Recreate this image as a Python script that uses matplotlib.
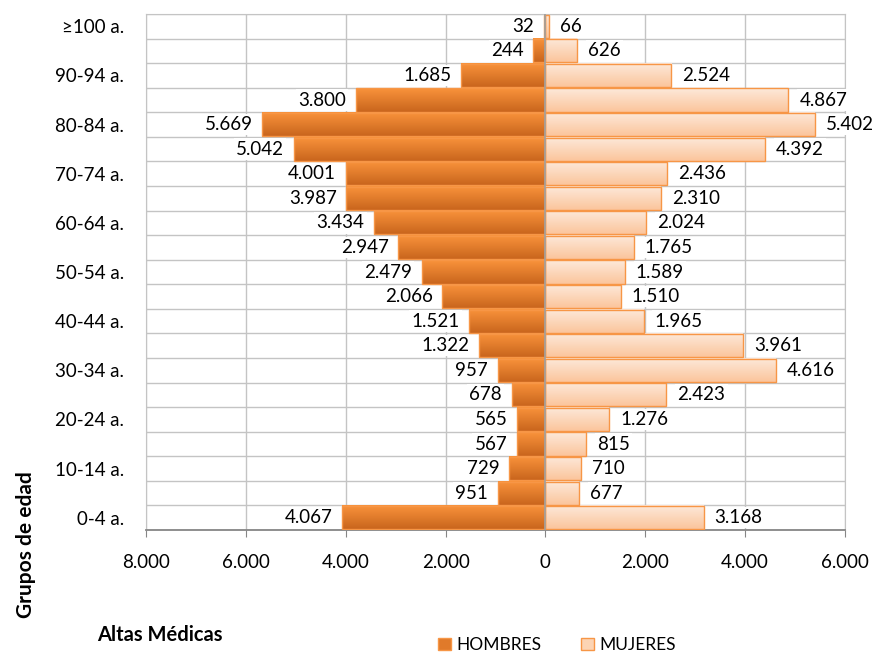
import numpy as np
import matplotlib.pyplot as plt
from matplotlib.colors import LinearSegmentedColormap
from matplotlib.patches import Patch

# Age groups, bottom to top
grupos = ["0-4 a.", "5-9 a.", "10-14 a.", "15-19 a.", "20-24 a.", "25-29 a.",
          "30-34 a.", "35-39 a.", "40-44 a.", "45-49 a.", "50-54 a.", "55-59 a.",
          "60-64 a.", "65-69 a.", "70-74 a.", "75-79 a.", "80-84 a.", "85-89 a.",
          "90-94 a.", "95-99 a.", "\u2265100 a."]
hombres = [4067, 951, 729, 567, 565, 678, 957, 1322, 1521, 2066, 2479, 2947,
           3434, 3987, 4001, 5042, 5669, 3800, 1685, 244, 32]
mujeres = [3168, 677, 710, 815, 1276, 2423, 4616, 3961, 1965, 1510, 1589, 1765,
           2024, 2310, 2436, 4392, 5402, 4867, 2524, 626, 66]
xticks = [-8000, -6000, -4000, -2000, 0, 2000, 4000, 6000]

plt.rcParams['font.family'] = ['Lato', 'DejaVu Sans']

def fmt(v):
    return f"{abs(v):,}".replace(",", ".")

cm_h = LinearSegmentedColormap.from_list("h", ["#c9651d", "#f9933b"])
cm_m = LinearSegmentedColormap.from_list("m", ["#fbc59c", "#fde9da"])
edge = "#f79646"
fs = 13.5

fig = plt.figure(figsize=(8.76, 6.55), dpi=100)
ax = fig.add_axes([0.1667, 0.1908, 0.7979, 0.7878])

y = np.arange(len(grupos))
h = 0.94
grad = np.linspace(0, 1, 50).reshape(-1, 1)

for i in range(len(grupos)):
    # HOMBRES on the left
    ax.imshow(grad, extent=[-hombres[i], 0, y[i] - h / 2, y[i] + h / 2],
              origin="lower", aspect="auto", cmap=cm_h, zorder=2)
    # MUJERES on the right
    ax.imshow(grad, extent=[0, mujeres[i], y[i] - h / 2, y[i] + h / 2],
              origin="lower", aspect="auto", cmap=cm_m, zorder=2)

ax.barh(y, [-v for v in hombres], height=h, facecolor="none", edgecolor=edge,
        linewidth=1, zorder=3)
ax.barh(y, mujeres, height=h, facecolor="none", edgecolor=edge,
        linewidth=1, zorder=3)

for i in range(len(grupos)):
    ax.annotate(fmt(hombres[i]), (-hombres[i], y[i]), xytext=(-7, 0),
                textcoords="offset points", ha="right", va="center",
                fontsize=fs, zorder=4,
                bbox=dict(boxstyle="square,pad=0.12", fc="white", ec="none"))
    ax.annotate(fmt(mujeres[i]), (mujeres[i], y[i]), xytext=(8, 0),
                textcoords="offset points", ha="left", va="center",
                fontsize=fs, zorder=4,
                bbox=dict(boxstyle="square,pad=0.12", fc="white", ec="none"))

ax.set_xlim(-8000, 6000)
ax.set_ylim(-0.5, len(grupos) - 0.5)

ax.set_xticks(xticks)
ax.set_xticklabels([fmt(v) for v in xticks], fontsize=fs)
ax.set_yticks(y[::2])
ax.set_yticklabels(grupos[::2], fontsize=fs)
ax.tick_params(axis="y", length=0, pad=16)
ax.tick_params(axis="x", length=5, color="#868686", pad=12)

# gridlines at category boundaries and x ticks
for b in np.arange(-0.5, len(grupos), 1):
    ax.axhline(b, color="#c4c4c4", lw=1, zorder=1)
for t in xticks:
    ax.axvline(t, color="#c4c4c4", lw=1, zorder=1)
ax.axvline(0, color="#a0a0a0", lw=1.2, zorder=3.5)

for s in ["top", "right", "left"]:
    ax.spines[s].set_color("#c4c4c4")
ax.spines["bottom"].set_color("#868686")
ax.spines["bottom"].set_linewidth(1.3)

fig.text(0.03, 0.168, "Grupos de edad", rotation=90, ha="center", va="center",
         fontsize=15, fontweight="bold")
fig.text(0.111, 0.031, "Altas Médicas", ha="left", va="center",
         fontsize=14.5, fontweight="bold")

handles = [Patch(facecolor="#e07a2a", edgecolor=edge, label="HOMBRES"),
           Patch(facecolor="#fcd4b4", edgecolor=edge, label="MUJERES")]
fig.legend(handles=handles, loc="center", bbox_to_anchor=(0.636, 0.015), ncol=2,
           frameon=False, fontsize=12.5, handlelength=0.75, handleheight=0.75,
           handletextpad=0.3, columnspacing=2.3)

fig.savefig("out.png", dpi=100)
